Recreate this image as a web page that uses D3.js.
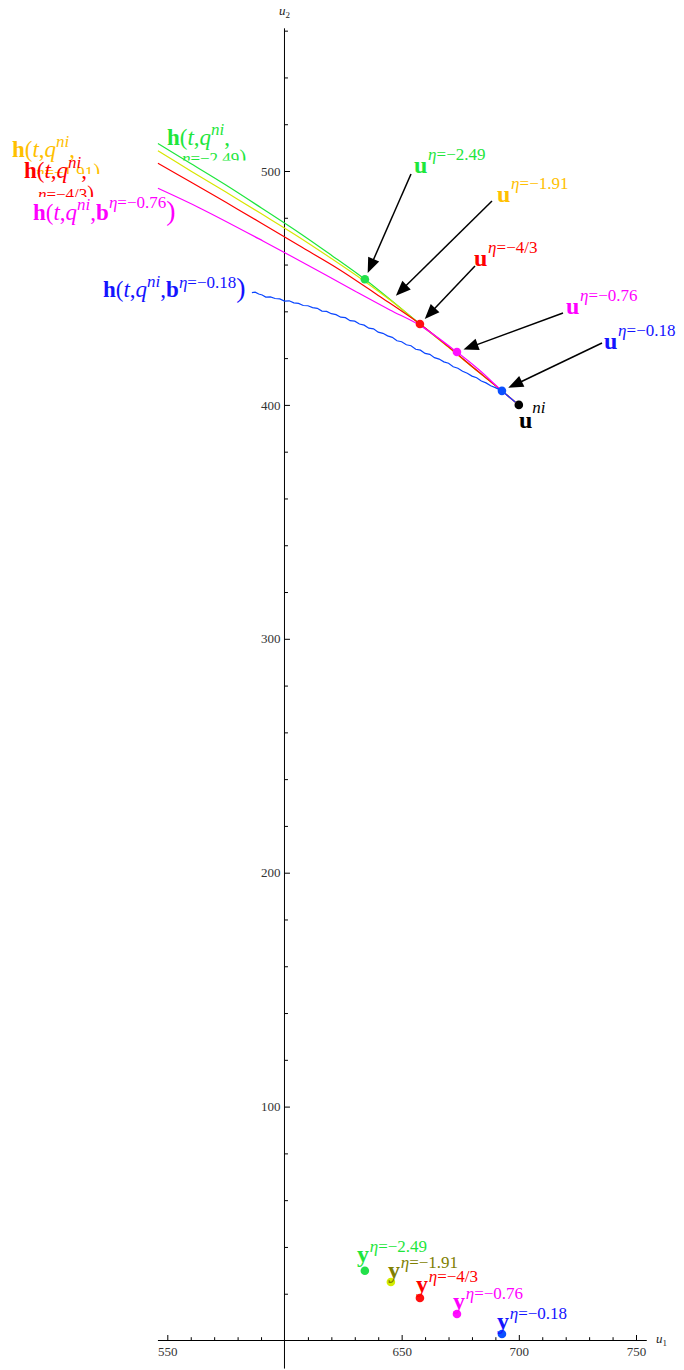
<!DOCTYPE html>
<html><head><meta charset="utf-8">
<script src="https://cdn.jsdelivr.net/npm/d3@7"></script>
<style>body{margin:0;background:#fff}svg{display:block}text{font-family:"Liberation Serif","Times New Roman",serif}</style>
</head><body><svg id="c" width="684" height="1370"></svg>
<script>
// ---------- data ----------
const etaLabels = ["−2.49", "−1.91", "−4/3", "−0.76", "−0.18"];
const uNi = [700, 400];
const uPoints = [[634.3, 453.7], [645.4, 444.6], [657.8, 434.6], [673.6, 422.6], [692.8, 406.0]];
const yPoints = [[634.3, 29.8], [645.4, 25.0], [657.8, 18.2], [673.6, 11.3], [692.8, 2.8]];
const curveGreen = [[546, 511.8], [560, 503.2], [575, 494.0], [590, 484.3], [606.4, 473.5], [620, 464.0], [634.3, 453.7], [646, 444.3], [657.8, 434.6], [670, 424.8], [682, 414.8], [692.8, 406.0], [698.5, 401.2]];
const curveYellow = [[546, 508.7], [560, 500.0], [575, 491.0], [590, 481.8], [606.4, 471.6], [620, 462.6], [634.3, 452.8], [645.4, 444.6], [657.8, 434.5], [670, 424.6], [682, 414.7], [692.8, 406.0], [698.5, 401.2]];
const curveRed = [[546, 503.3], [560, 495.3], [575, 486.6], [590, 477.8], [606.4, 468.0], [623.7, 457.7], [640, 446.8], [657.8, 434.6], [670, 424.8], [682, 414.8], [692.8, 406.0], [698.5, 401.2]];
const curveMagenta = [[546, 492.6], [564, 484.1], [590.8, 470.1], [610, 459.7], [630, 448.7], [645, 440.6], [657.8, 434.0], [673.6, 422.6], [683, 415.0], [692.8, 406.0], [698.5, 401.2]];
const curveBlue = [[586.1, 448.0], [587.5, 448.2], [589, 447.4], [590.5, 447.0], [592, 446.1], [594, 446.2], [596, 445.5], [598, 445.3], [600, 444.4], [602, 444.5], [604, 443.6], [606, 443.4], [608, 442.5], [610, 442.4], [612, 441.6], [614, 441.3], [616, 440.1], [618, 440.0], [620, 439.0], [622, 438.6], [624, 437.5], [626, 437.3], [628, 436.0], [630, 435.8], [632, 434.6], [634, 434.1], [636, 432.8], [638, 432.5], [640, 431.1], [642, 430.6], [644, 429.5], [646, 428.9], [648, 427.4], [650, 427.0], [652, 425.7], [654, 425.3], [656, 423.8], [658, 423.4], [660, 422.0], [662, 421.6], [664, 420.2], [666, 419.6], [668, 418.4], [670, 417.8], [672, 416.3], [674, 415.7], [676, 414.4], [678, 413.5], [680, 412.3], [682, 411.6], [684, 410.2], [686, 409.4], [688, 408.2], [690, 407.4], [692.8, 406.0], [695, 404.1], [698.5, 401.2]];
const xMajorTicks = [550, 650, 700, 750];
const yMajorTicks = [100, 200, 300, 400, 500];

// ---------- styles ----------
const lineColors = ["#1ee63c", "#d8e600", "#ff0000", "#ff00ff", "#0a46ff"];
const dotColors = ["#22e04a", "#d4ec00", "#ff1010", "#ff10ff", "#0a50ff"];
const uLabelColors = ["#1ee63c", "#ffc000", "#ff0000", "#ff00ff", "#1414ff"];
const hLabelColors = ["#1ee63c", "#ffc000", "#ff0000", "#ff00ff", "#1414ff"];
const yLabelColors = ["#1ee63c", "#808000", "#ff0000", "#ff00ff", "#1414ff"];
const FONT = '"Liberation Serif","Times New Roman",serif';

const svg = d3.select("#c");
const xS = d3.scaleLinear().domain([550, 750]).range([167.3, 636]);
const yS = d3.scaleLinear().domain([0, 500]).range([1340.5, 171]);

// ---------- axes ----------
const axG = svg.append("g");
axG.append("line").attr("x1", xS(546)).attr("x2", xS(754.6)).attr("y1", yS(0)).attr("y2", yS(0)).attr("stroke", "#000").attr("stroke-width", 1);
axG.append("line").attr("x1", xS(600)).attr("x2", xS(600)).attr("y1", yS(-12)).attr("y2", yS(561)).attr("stroke", "#000").attr("stroke-width", 1);

function styleAxis(g) {
  g.select(".domain").remove();
  g.attr("font-family", FONT).attr("font-size", 13);
  g.selectAll("line").attr("stroke", "#000");
  g.selectAll("text").attr("fill", "#333");
}
const xMinor = d3.range(550, 751, 10).filter(v => !xMajorTicks.includes(v) && v !== 600);
const yMinor = d3.range(20, 561, 20).filter(v => !yMajorTicks.includes(v));
svg.append("g").attr("transform", `translate(0,${yS(0)})`)
  .call(d3.axisBottom(xS).tickValues(xMajorTicks).tickSize(-5.5).tickPadding(6).tickFormat(d => d)).call(styleAxis);
svg.append("g").attr("transform", `translate(0,${yS(0)})`)
  .call(d3.axisBottom(xS).tickValues(xMinor).tickSize(-3.3).tickFormat("")).call(styleAxis);
svg.append("g").attr("transform", `translate(${xS(600)},0)`)
  .call(d3.axisLeft(yS).tickValues(yMajorTicks).tickSize(-5.5).tickPadding(4).tickFormat(d => d)).call(styleAxis);
svg.append("g").attr("transform", `translate(${xS(600)},0)`)
  .call(d3.axisLeft(yS).tickValues(yMinor).tickSize(-3.5).tickFormat("")).call(styleAxis);

function rich(x, y, segs, color, parent) {
  const t = (parent || svg).append("text").attr("x", x).attr("y", y).attr("fill", color).attr("font-family", FONT);
  segs.forEach(s => {
    t.append("tspan").attr("y", y - (s.rise || 0)).attr("font-size", s.size)
      .attr("font-weight", s.b ? "bold" : "normal").attr("font-style", s.i ? "italic" : "normal").text(s.t);
  });
  return t;
}
rich(279, 15, [{t: "u", i: 1, size: 13}, {t: "2", size: 9, rise: -3}], "#222");
rich(656, 1343, [{t: "u", i: 1, size: 13}, {t: "1", size: 9, rise: -3}], "#222");

// ---------- curves ----------
const line = d3.line().x(d => xS(d[0])).y(d => yS(d[1]));
const curves = [curveGreen, curveYellow, curveRed, curveMagenta, curveBlue];
curves.forEach((c, i) => {
  svg.append("path").datum(c)
    .attr("d", line.curve(i === 4 ? d3.curveLinear : d3.curveCatmullRom)(c))
    .attr("fill", "none").attr("stroke", lineColors[i]).attr("stroke-width", 1.2);
});

// ---------- points ----------
uPoints.forEach((p, i) => {
  if (i === 1) return; // hidden in reference
  svg.append("circle").attr("cx", xS(p[0])).attr("cy", yS(p[1])).attr("r", 4.3).attr("fill", dotColors[i]);
});
svg.append("circle").attr("cx", xS(uNi[0])).attr("cy", yS(uNi[1])).attr("r", 4.3).attr("fill", "#000");
yPoints.forEach((p, i) => {
  svg.append("circle").attr("cx", xS(p[0])).attr("cy", yS(p[1])).attr("r", 4.3).attr("fill", dotColors[i]);
});

// ---------- arrows ----------
const arrowTails = [[411, 174], [492, 201], [475, 266], [563, 313], [602, 343]];
uPoints.forEach((p, i) => {
  const px = xS(p[0]), py = yS(p[1]);
  const [tx, ty] = arrowTails[i];
  const dx = px - tx, dy = py - ty, L = Math.hypot(dx, dy);
  const ux = dx / L, uy = dy / L;
  const tipX = px - ux * 7, tipY = py - uy * 7;
  const bx = tipX - ux * 15, by = tipY - uy * 15;
  svg.append("line").attr("x1", tx).attr("y1", ty).attr("x2", bx + ux * 2).attr("y2", by + uy * 2)
    .attr("stroke", "#000").attr("stroke-width", 1.5);
  svg.append("path").attr("d", `M${tipX},${tipY}L${bx - uy * 6},${by + ux * 6}L${bx + uy * 6},${by - ux * 6}Z`).attr("fill", "#000");
});

// ---------- labels ----------
const M = 23, S = 17;
function hHead() {
  return [{t: "h", b: 1, size: M}, {t: "(", size: M}, {t: "t", i: 1, size: M}, {t: ",", size: M},
          {t: "q", i: 1, size: M}, {t: "ni", i: 1, size: S, rise: 10}, {t: ",", size: M}];
}
function hFull(eta, rise) {
  return hHead().concat([{t: "b", b: 1, size: M}, {t: "η", i: 1, size: S, rise: rise}, {t: "=" + eta, size: S, rise: rise}, {t: ")", size: 28}]);
}
// clipped second lines of the wrapped labels
const defs = svg.append("defs");
function clipped(id, x, y, clipY, eta, color) {
  defs.append("clipPath").attr("id", id).append("rect").attr("x", 0).attr("y", 0).attr("width", 684).attr("height", clipY);
  const g = svg.append("g").attr("clip-path", `url(#${id})`);
  rich(x, y, [{t: "η", i: 1, size: S}, {t: "=" + eta, size: S}, {t: ")", size: 20}], color, g);
}
// gold (yellow) label
rich(12, 157, hHead(), hLabelColors[1]);
clipped("cy2", 36, 178, 174, etaLabels[1], hLabelColors[1]);
// red label
rich(24, 178, hHead(), hLabelColors[2]);
clipped("cr2", 38, 200, 197, etaLabels[2], hLabelColors[2]);
// green label
rich(167, 145, hHead(), hLabelColors[0]);
clipped("cg2", 182, 164, 160.5, etaLabels[0], hLabelColors[0]);
// magenta & blue full labels
rich(33, 220, hFull(etaLabels[3], 12), hLabelColors[3]);
rich(103, 297, hFull(etaLabels[4], 9), hLabelColors[4]);

// u labels
const uLabelPos = [[414, 173], [497, 202], [474, 266], [566, 314], [604, 349]];
uLabelPos.forEach((p, i) => {
  rich(p[0], p[1], [{t: "u", b: 1, size: 24}, {t: " ", size: 3}, {t: "η", i: 1, size: S, rise: 13}, {t: "=" + etaLabels[i], size: S, rise: 13}], uLabelColors[i]);
});
rich(519, 428, [{t: "u", b: 1, size: 24}, {t: "ni", i: 1, size: S, rise: 15}], "#000");

// y labels
const yLabelPos = [[357, 1262], [388, 1278], [416, 1292], [453, 1309], [497, 1329]];
yLabelPos.forEach((p, i) => {
  rich(p[0], p[1], [{t: "y", b: 1, size: 24}, {t: " ", size: 3}, {t: "η", i: 1, size: S, rise: 10}, {t: "=" + etaLabels[i], size: S, rise: 10}], yLabelColors[i]);
});
</script></body></html>
